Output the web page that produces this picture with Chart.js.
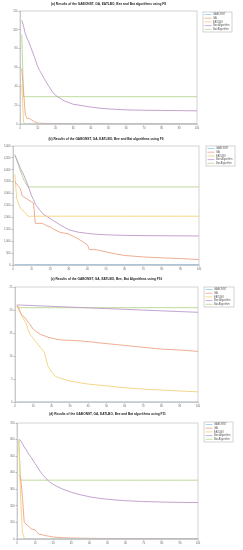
<!DOCTYPE html>
<html>
<head>
<meta charset="utf-8">
<script src="https://cdn.jsdelivr.net/npm/chart.js@4.4.1/dist/chart.umd.min.js"></script>
<style>
body{margin:0;background:#fff;}
canvas{display:block;}
</style>
</head>
<body>
<canvas id="c1" width="243" height="135"></canvas>
<canvas id="c2" width="243" height="140"></canvas>
<canvas id="c3" width="243" height="135"></canvas>
<canvas id="c4" width="243" height="140"></canvas>
<script>
var iters = [1,2,3,4,5,6,8,10,11,12,14,16,18,20,22,25,30,35,40,41,45,50,55,60,70,80,90,100];
var names = ['GABONST','GA','EATLBO','Bee Algorithm','Bat Algorithm'];

// F8
var f8Gabonst = [0,0,0,0,0,0,0,0,0,0,0,0,0,0,0,0,0,0,0,0,0,0,0,0,0,0,0,0];
var f8Ga = [59,35,10,6,6,5,2.5,1,0.8,0.7,0.6,0.5,0.5,0.4,0.4,0.4,0.3,0.3,0.3,0.3,0.3,0.2,0.2,0.2,0.2,0.2,0.2,0.2];
var f8Eatlbo = [42,2,0,0,0,0,0,0,0,0,0,0,0,0,0,0,0,0,0,0,0,0,0,0,0,0,0,0];
var f8Bee = [110,104,96,91,87,82,72,61,57,54,47,41,35,30.5,28,24.5,21,19.5,18,17.8,16.8,16,15.5,15,14.6,14.4,14.2,14];
var f8Bat = [95,29,29,29,29,29,29,29,29,29,29,29,29,29,29,29,29,29,29,29,29,29,29,29,29,29,29,29];

// F9
var f9Gabonst = [20,20,20,20,20,20,20,20,20,20,20,20,20,20,20,20,20,20,20,20,20,20,20,20,20,20,20,20];
var f9Ga = [3500,3400,3300,3200,2900,2850,2750,2650,2600,1750,1750,1750,1650,1600,1500,1380,1300,1100,850,650,640,550,470,400,340,300,270,230];
var f9Eatlbo = [3800,2800,2550,2400,2300,2250,2050,2050,2050,2050,2050,2050,2050,2050,2050,2050,2050,2050,2050,2050,2050,2050,2050,2050,2050,2050,2050,2050];
var f9Bee = [4600,4450,4250,4050,3900,3750,3350,2900,2750,2550,2350,2150,2050,1950,1850,1700,1480,1380,1330,1320,1290,1270,1255,1245,1235,1230,1225,1220];
var f9Bat = [4650,4400,4200,3950,3750,3550,3280,3280,3280,3280,3280,3280,3280,3280,3280,3280,3280,3280,3280,3280,3280,3280,3280,3280,3280,3280,3280,3280];

// F10
var f10Gabonst = [0,0,0,0,0,0,0,0,0,0,0,0,0,0,0,0,0,0,0,0,0,0,0,0,0,0,0,0];
var f10Ga = [21,20.2,19.3,18.8,18.5,18,17,15.8,15.5,15.2,14.7,14.4,14.1,13.9,13.7,13.5,13.4,13.3,13.1,13.1,12.9,12.7,12.5,12.3,11.9,11.5,11.3,11.0];
var f10Eatlbo = [20.5,20.8,19.5,18.5,17.8,17.2,14.8,13.8,13.3,12.8,11.8,10.8,7.8,6.5,5.6,5.1,4.6,4.2,3.9,3.85,3.7,3.5,3.3,3.1,2.8,2.6,2.4,2.2];
var f10Bee = [21.1,21.08,21.07,21.05,21.04,21.02,20.99,20.95,20.94,20.92,20.89,20.86,20.83,20.8,20.76,20.71,20.63,20.55,20.47,20.45,20.39,20.3,20.23,20.15,19.98,19.82,19.66,19.5];
var f10Bat = [20.8,20.5,20.5,20.5,20.5,20.5,20.5,20.5,20.5,20.5,20.5,20.5,20.5,20.5,20.5,20.5,20.5,20.5,20.5,20.5,20.5,20.5,20.5,20.5,20.5,20.5,20.5,20.5];

// F11
var f11Gabonst = [0,0,0,0,0,0,0,0,0,0,0,0,0,0,0,0,0,0,0,0,0,0,0,0,0,0,0,0];
var f11Ga = [385,375,250,100,90,80,60,55,40,30,25,20,16,12,10,8,6,5,4,4,3.5,3,3,2.5,2.5,2,2,2];
var f11Eatlbo = [590,250,40,5,1,0,0,0,0,0,0,0,0,0,0,0,0,0,0,0,0,0,0,0,0,0,0,0];
var f11Bee = [600,595,575,555,540,520,490,455,440,420,390,365,345,330,318,302,282,267,255,253,246,240,235,231,226,223,221,220];
var f11Bat = [600,355,355,355,355,355,355,355,355,355,355,355,355,355,355,355,355,355,355,355,355,355,355,355,355,355,355,355];

var colors = ['#94c8ea','#eda483','#f3d17e','#bd99c8','#b6d68f'];

function toPoints(vals) {
  var pts = [];
  for (var i in iters) {
    pts.push({x: iters[i], y: vals[i]});
  }
  return pts;
}

// box outline + small legend in the top right like the matlab figure
var boxPlugin = {
  id: 'boxPlugin',
  afterDraw: function(chart) {
    var ctx = chart.ctx;
    var a = chart.chartArea;
    var lg = chart.options.plugins.boxPlugin;
    ctx.save();
    ctx.strokeStyle = '#b5b5b5';
    ctx.lineWidth = 0.6;
    ctx.strokeRect(a.left, a.top, a.right - a.left, a.bottom - a.top);

    var rowH = 3.7;
    ctx.fillStyle = '#fff';
    ctx.fillRect(lg.x, lg.y, lg.w, rowH * 5 + 1.5);
    ctx.strokeRect(lg.x, lg.y, lg.w, rowH * 5 + 1.5);
    ctx.font = '2.6px "Liberation Sans"';
    ctx.textBaseline = 'middle';
    for (var i = 0; i < names.length; i++) {
      var yy = lg.y + 2.5 + i * rowH;
      ctx.strokeStyle = colors[i];
      ctx.lineWidth = 0.8;
      ctx.beginPath();
      ctx.moveTo(lg.x + 1.5, yy);
      ctx.lineTo(lg.x + 8.5, yy);
      ctx.stroke();
      ctx.fillStyle = '#555';
      ctx.fillText(names[i], lg.x + 10, yy);
    }
    ctx.restore();
  }
};

function makeChart(id, title, series, yMax, yStep, area, leg) {
  var canvas = document.getElementById(id);
  var h = canvas.height;
  var datasets = [];
  for (var i = 0; i < series.length; i++) {
    datasets.push({
      label: names[i],
      data: toPoints(series[i]),
      borderColor: colors[i],
      backgroundColor: colors[i],
      borderWidth: 0.9,
      pointRadius: 0,
      tension: 0
    });
  }
  return new Chart(canvas, {
    type: 'line',
    data: {datasets: datasets},
    plugins: [boxPlugin],
    options: {
      responsive: false,
      animation: false,
      layout: {padding: {left: 0, right: 243 - area.right, top: 0, bottom: 0}},
      plugins: {
        legend: {display: false},
        tooltip: {enabled: false},
        title: {
          display: true,
          text: title,
          fullSize: false,
          color: '#222',
          font: {size: 3.2, weight: 'bold', family: 'Liberation Sans'},
          padding: {top: 2, bottom: area.top - 5.84}
        },
        boxPlugin: leg
      },
      scales: {
        x: {
          type: 'linear',
          min: 0,
          max: 100,
          ticks: {stepSize: 10, maxRotation: 0, padding: 1, color: '#666', font: {size: 2.6, family: 'Liberation Sans'}},
          grid: {drawOnChartArea: false, tickLength: 1.5, color: '#b5b5b5'},
          border: {color: '#b5b5b5', width: 0.6},
          afterFit: function(s) { s.height = h - area.bottom; }
        },
        y: {
          min: 0,
          max: yMax,
          ticks: {stepSize: yStep, padding: 1, color: '#666', font: {size: 2.6, family: 'Liberation Sans'}},
          grid: {drawOnChartArea: false, tickLength: 1.5, color: '#b5b5b5'},
          border: {color: '#b5b5b5', width: 0.6},
          afterFit: function(s) { s.width = area.left; }
        }
      }
    }
  });
}

makeChart('c1', '(a) Results of the GABONST, GA, EATLBO, Bee and Bat algorithms using F8',
  [f8Gabonst, f8Ga, f8Eatlbo, f8Bee, f8Bat], 120, 20,
  {left: 20, right: 197, top: 11, bottom: 124}, {x: 203, y: 12, w: 29});

makeChart('c2', '(b) Results of the GABONST, GA, EATLBO, Bee and Bat algorithms using F9',
  [f9Gabonst, f9Ga, f9Eatlbo, f9Bee, f9Bat], 5000, 500,
  {left: 13, right: 199, top: 11, bottom: 130}, {x: 206, y: 11, w: 29});

makeChart('c3', '(c) Results of the GABONST, GA, EATLBO, Bee, Bat Algorithms using F10',
  [f10Gabonst, f10Ga, f10Eatlbo, f10Bee, f10Bat], 25, 5,
  {left: 15, right: 198, top: 12, bottom: 127}, {x: 204, y: 12, w: 30});

makeChart('c4', '(d) Results of the GABONST, GA, EATLBO, Bee and Bat algorithms using F11',
  [f11Gabonst, f11Ga, f11Eatlbo, f11Bee, f11Bat], 700, 100,
  {left: 17, right: 198, top: 13, bottom: 129}, {x: 204, y: 12, w: 29});
</script>
</body>
</html>
